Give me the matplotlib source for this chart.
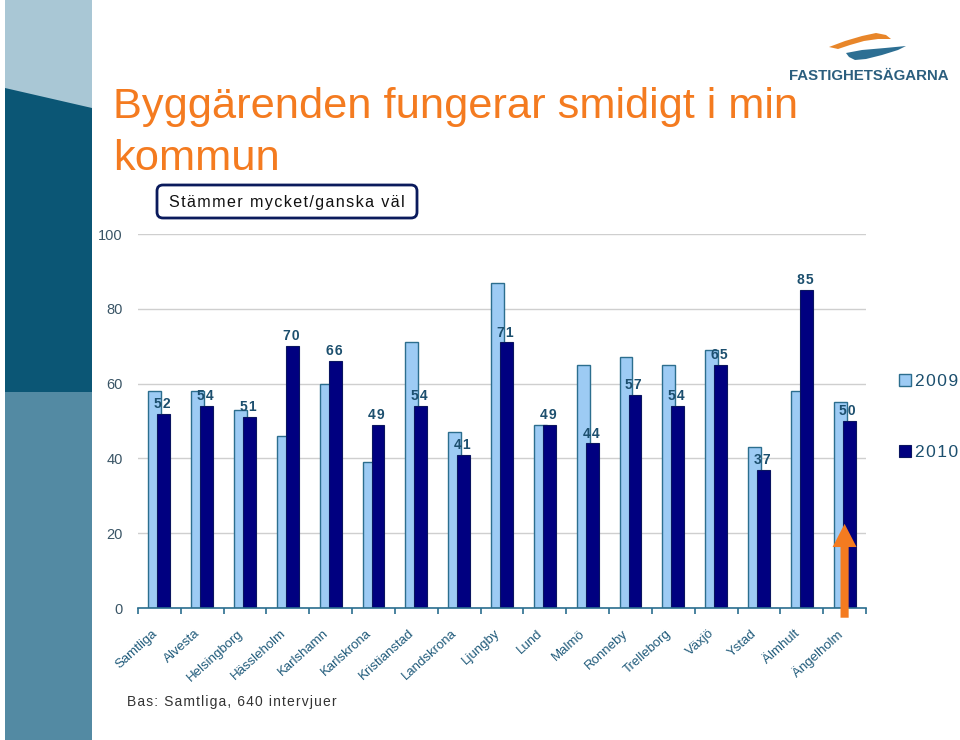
import matplotlib
matplotlib.use("Agg")
import matplotlib.pyplot as plt
from matplotlib.patches import Rectangle, Polygon, FancyBboxPatch
import matplotlib.transforms as mtransforms
import numpy as np

plt.rcParams['font.family'] = ['Liberation Sans', 'DejaVu Sans']

# ---- data ----
categories = ["Samtliga", "Alvesta", "Helsingborg", "Hässleholm", "Karlshamn",
              "Karlskrona", "Kristianstad", "Landskrona", "Ljungby", "Lund",
              "Malmö", "Ronneby", "Trelleborg", "Växjö", "Ystad", "Älmhult",
              "Ängelholm"]
values_2009 = [58, 58, 53, 46, 60, 39, 71, 47, 87, 49, 65, 67, 65, 69, 43, 58, 55]
values_2010 = [52, 54, 51, 70, 66, 49, 54, 41, 71, 49, 44, 57, 54, 65, 37, 85, 50]
series_names = ["2009", "2010"]
yticks = [0, 20, 40, 60, 80, 100]
title_lines = ["Byggärenden fungerar smidigt i min", "kommun"]
subtitle = "Stämmer mycket/ganska väl"
footnote = "Bas: Samtliga, 640 intervjuer"
highlight_index = 16

LIGHT = '#9DCBF4'
LIGHT_EDGE = '#2C6E8E'
DARK = '#000080'
TEAL_TXT = '#1C4F6E'
ORANGE = '#F47B20'


def sp(s, ch='\u200a'):
    return ch.join(list(s))


W, H = 960, 740
fig = plt.figure(figsize=(W / 100, H / 100), dpi=100)

# background / decoration axes in pixel coordinates
bg = fig.add_axes([0, 0, 1, 1], zorder=0)
bg.set_xlim(0, W)
bg.set_ylim(H, 0)
bg.axis('off')

# left band
bg.add_patch(Rectangle((5, 0), 87, 740, color='#538AA3', lw=0))
bg.add_patch(Polygon([(5, 0), (92, 0), (92, 392), (5, 392)], closed=True, color='#0B5675', lw=0))
bg.add_patch(Polygon([(5, 0), (92, 0), (92, 108), (5, 88)], closed=True, color='#A9C7D5', lw=0))

# title
bg.text(113, 118, title_lines[0], color=ORANGE, fontsize=31.2, va='baseline', ha='left')
bg.text(113, 170, title_lines[1], color=ORANGE, fontsize=31.2, va='baseline', ha='left')

# subtitle box
bg.add_patch(FancyBboxPatch((157, 185), 260, 33, boxstyle='round,pad=0,rounding_size=6',
                            fc='white', ec='#0A1A5C', lw=2))
bg.text(287, 202, sp(subtitle), fontsize=11.6, color='#111111', ha='center', va='center')

# logo
bg.add_patch(Polygon([(829, 47), (845, 41), (862, 36), (876, 33), (886, 35), (891, 39),
                      (878, 39), (864, 41), (850, 45), (838, 49)], closed=True,
                     color='#E8862A', lw=0))
bg.add_patch(Polygon([(846, 53), (862, 50), (885, 48), (906, 46), (898, 50), (882, 55),
                      (866, 59), (855, 60), (849, 57)], closed=True, color='#2D6F93', lw=0))
bg.text(869, 80, "FASTIGHETSÄGARNA", fontsize=10.8, fontweight='bold', color='#2B5E7E',
        ha='center', va='baseline')

# footnote
bg.text(127, 702, sp(footnote), fontsize=10, color='#333333', ha='left', va='center')

# ---- main chart ----
ax = fig.add_axes([138 / W, 1 - 608 / H, (866 - 138) / W, (608 - 234) / H], zorder=2)
ax.patch.set_alpha(0)
n = len(categories)
x = np.arange(n) + 0.5
bw = 0.30
off = 0.105
b1 = ax.bar(x - off, values_2009, bw, color=LIGHT, edgecolor=LIGHT_EDGE, lw=1, zorder=3,
            label=sp(series_names[0]))
b2 = ax.bar(x + off, values_2010, bw, color=DARK, edgecolor='#0A1560', lw=0.8, zorder=4,
            label=sp(series_names[1]))

for xi, v in zip(x, values_2010):
    ax.annotate(sp(str(v)), (xi + off - 0.03, v), xytext=(0, 2), textcoords='offset points',
                ha='center', va='bottom', fontsize=10, fontweight='bold', color=TEAL_TXT,
                zorder=6)

ax.set_xlim(0, n)
ax.set_ylim(0, 100)
ax.set_yticks(yticks)
ax.set_yticklabels([str(v) for v in yticks], fontsize=10.5, color='#3A5566')
ax.tick_params(axis='y', length=0, pad=11)
ax.yaxis.grid(True, color='#CFCFCF', lw=1)
ax.set_axisbelow(True)
for s in ['left', 'right', 'top']:
    ax.spines[s].set_visible(False)
ax.spines['bottom'].set_color('#2B6E8F')
ax.spines['bottom'].set_linewidth(1.2)
ax.spines['bottom'].set_zorder(5)

ax.set_xticks(x)
ax.set_xticklabels(categories, rotation=42, ha='right', rotation_mode='anchor',
                   fontsize=9.5, color='#1F5A7A')
ax.tick_params(axis='x', which='major', length=0, pad=14)
shift = mtransforms.ScaledTranslation(-8 / 100, 0, fig.dpi_scale_trans)
for lab in ax.get_xticklabels():
    lab.set_transform(lab.get_transform() + shift)
ax.set_xticks(np.arange(n + 1), minor=True)
ax.tick_params(axis='x', which='minor', length=4, width=1.2, color='#2B6E8F', direction='out')

# highlight arrow
ax.arrow(x[highlight_index], -2.6, 0, 25.1, width=0.19, head_width=0.56, head_length=6.2,
         length_includes_head=True, color=ORANGE, lw=0, clip_on=False, zorder=7)

leg = ax.legend(handles=[b1, b2], loc='upper left', bbox_to_anchor=(899 / W, 1 - 374 / H),
                bbox_transform=fig.transFigure, frameon=False, fontsize=12.5,
                handlelength=0.7, handleheight=0.7, handletextpad=0.25,
                labelspacing=3.2, borderpad=0, borderaxespad=0)
for txt in leg.get_texts():
    txt.set_color(TEAL_TXT)

fig.savefig('out.png', dpi=100)
